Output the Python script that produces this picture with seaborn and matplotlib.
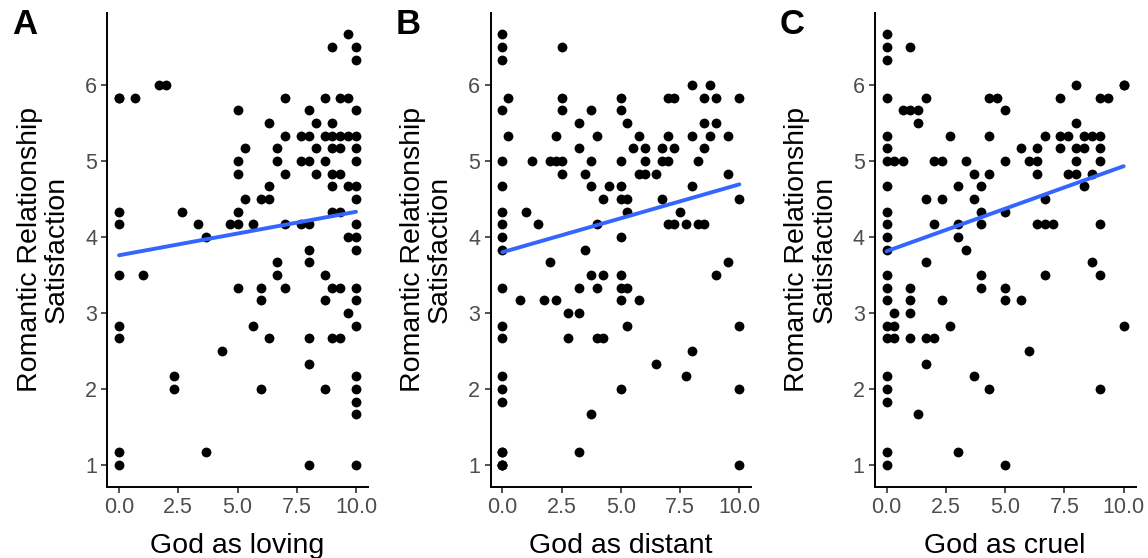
import numpy as np
import pandas as pd
import seaborn as sns
import matplotlib
matplotlib.use("Agg")
import matplotlib.pyplot as plt

# (god rating, relationship satisfaction), row by row
loving_pts = [
    (9.67, 6.67), (9.0, 6.5), (10, 6.5), (10, 6.33), (1.67, 6.0), (2.0, 6.0),
    (0, 5.83), (0.67, 5.83), (7.0, 5.83), (8.67, 5.83), (9.33, 5.83), (9.67, 5.83),
    (5.0, 5.67), (8.0, 5.67), (10, 5.67), (6.33, 5.5), (8.33, 5.5), (9.0, 5.5),
    (7.0, 5.33), (7.67, 5.33), (8.0, 5.33), (8.67, 5.33), (9.0, 5.33), (9.33, 5.33),
    (9.67, 5.33), (10, 5.33),
    (5.33, 5.17), (6.67, 5.17), (8.33, 5.17), (9.0, 5.17), (9.33, 5.17), (10, 5.17),
    (5.0, 5.0), (6.67, 5.0), (7.67, 5.0), (8.0, 5.0), (8.67, 5.0), (10, 5.0),
    (5.0, 4.83), (7.0, 4.83), (8.33, 4.83), (9.0, 4.83), (9.33, 4.83),
    (6.33, 4.67), (9.0, 4.67), (9.67, 4.67), (10, 4.67),
    (5.33, 4.5), (6.0, 4.5), (6.33, 4.5), (10, 4.5),
    (0, 4.33), (2.67, 4.33), (5.0, 4.33), (9.0, 4.33), (9.33, 4.33),
    (0, 4.17), (3.33, 4.17), (4.67, 4.17), (5.0, 4.17), (5.67, 4.17), (7.0, 4.17),
    (7.67, 4.17), (8.0, 4.17), (10, 4.17),
    (3.67, 4.0), (9.67, 4.0), (10, 4.0), (8.0, 3.83), (10, 3.83),
    (6.67, 3.67), (8.0, 3.67), (0, 3.5), (1.0, 3.5), (6.67, 3.5), (8.67, 3.5),
    (5.0, 3.33), (6.0, 3.33), (7.0, 3.33), (9.0, 3.33), (9.33, 3.33), (10, 3.33),
    (6.0, 3.17), (8.67, 3.17), (10, 3.17), (9.67, 3.0),
    (0, 2.83), (5.67, 2.83), (10, 2.83),
    (0, 2.67), (6.33, 2.67), (8.0, 2.67), (9.0, 2.67), (9.33, 2.67),
    (4.33, 2.5), (8.0, 2.33), (2.33, 2.17), (10, 2.17),
    (2.33, 2.0), (6.0, 2.0), (8.67, 2.0), (10, 2.0), (10, 1.83), (10, 1.67),
    (0, 1.17), (3.67, 1.17), (0, 1.0), (8.0, 1.0), (10, 1.0),
    # overplotted duplicate (hidden under a visible dot, implied by the fit line)
    (0, 5.83),
]

distant_pts = [
    (0, 6.67), (0, 6.5), (2.5, 6.5), (0, 6.33), (8.0, 6.0), (8.75, 6.0),
    (0.25, 5.83), (2.5, 5.83), (5.0, 5.83), (7.0, 5.83), (7.25, 5.83), (8.5, 5.83),
    (9.0, 5.83), (10, 5.83),
    (0, 5.67), (2.5, 5.67), (3.75, 5.67), (5.0, 5.67),
    (3.25, 5.5), (5.25, 5.5), (8.5, 5.5), (9.0, 5.5),
    (0.25, 5.33), (2.25, 5.33), (4.0, 5.33), (5.75, 5.33), (7.0, 5.33), (8.0, 5.33),
    (8.75, 5.33), (9.5, 5.33),
    (3.25, 5.17), (5.5, 5.17), (6.0, 5.17), (6.75, 5.17), (7.25, 5.17), (8.5, 5.17),
    (0, 5.0), (1.25, 5.0), (2.0, 5.0), (2.25, 5.0), (2.5, 5.0), (3.75, 5.0),
    (5.0, 5.0), (6.0, 5.0), (6.75, 5.0), (7.0, 5.0), (8.25, 5.0),
    (2.5, 4.83), (3.5, 4.83), (5.75, 4.83), (6.0, 4.83), (6.5, 4.83), (9.5, 4.83),
    (0, 4.67), (3.75, 4.67), (4.5, 4.67), (5.0, 4.67), (8.0, 4.67),
    (4.25, 4.5), (5.0, 4.5), (5.25, 4.5), (6.75, 4.5), (10, 4.5),
    (0, 4.33), (1.0, 4.33), (5.25, 4.33), (7.5, 4.33),
    (0, 4.17), (1.5, 4.17), (4.0, 4.17), (7.0, 4.17), (7.25, 4.17), (7.75, 4.17),
    (8.25, 4.17), (8.5, 4.17),
    (0, 4.0), (5.0, 4.0), (0, 3.83), (3.5, 3.83), (2.0, 3.67), (9.5, 3.67),
    (3.75, 3.5), (4.25, 3.5), (5.0, 3.5), (9.0, 3.5),
    (0, 3.33), (3.25, 3.33), (4.0, 3.33), (5.0, 3.33), (5.25, 3.33),
    (0.75, 3.17), (1.75, 3.17), (2.25, 3.17), (5.0, 3.17), (5.75, 3.17),
    (2.75, 3.0), (3.25, 3.0), (0, 2.83), (5.25, 2.83), (10, 2.83),
    (0, 2.67), (2.75, 2.67), (4.0, 2.67), (4.25, 2.67),
    (8.0, 2.5), (6.5, 2.33), (0, 2.17), (7.75, 2.17),
    (0, 2.0), (5.0, 2.0), (10, 2.0), (0, 1.83), (3.75, 1.67),
    (0, 1.17), (3.25, 1.17), (0, 1.0), (10, 1.0),
    # overplotted duplicates
    (0, 1.0), (0, 1.0), (0, 1.17),
]

cruel_pts = [
    (0, 6.67), (0, 6.5), (1.0, 6.5), (0, 6.33), (8.0, 6.0), (10, 6.0),
    (0, 5.83), (1.67, 5.83), (4.33, 5.83), (4.67, 5.83), (7.33, 5.83), (9.0, 5.83),
    (9.33, 5.83),
    (0.67, 5.67), (1.0, 5.67), (1.33, 5.67), (5.0, 5.67), (1.33, 5.5), (8.0, 5.5),
    (0, 5.33), (2.67, 5.33), (4.33, 5.33), (6.67, 5.33), (7.33, 5.33), (7.67, 5.33),
    (8.33, 5.33), (8.67, 5.33), (9.0, 5.33),
    (0, 5.17), (5.67, 5.17), (6.33, 5.17), (7.33, 5.17), (8.0, 5.17), (8.33, 5.17),
    (9.0, 5.17),
    (0, 5.0), (0.33, 5.0), (0.67, 5.0), (2.0, 5.0), (2.33, 5.0), (3.33, 5.0),
    (5.0, 5.0), (6.0, 5.0), (6.33, 5.0), (8.0, 5.0), (9.0, 5.0),
    (3.67, 4.83), (4.33, 4.83), (6.33, 4.83), (7.67, 4.83), (8.0, 4.83), (8.67, 4.83),
    (0, 4.67), (3.0, 4.67), (4.0, 4.67), (8.33, 4.67),
    (1.67, 4.5), (2.33, 4.5), (3.67, 4.5), (6.67, 4.5),
    (0, 4.33), (4.0, 4.33), (5.0, 4.33),
    (0, 4.17), (2.0, 4.17), (3.0, 4.17), (4.0, 4.17), (6.33, 4.17), (6.67, 4.17),
    (7.0, 4.17), (9.0, 4.17),
    (0, 4.0), (3.0, 4.0), (0, 3.83), (3.33, 3.83), (1.67, 3.67), (8.67, 3.67),
    (0, 3.5), (4.0, 3.5), (6.67, 3.5), (9.0, 3.5),
    (0, 3.33), (1.0, 3.33), (4.0, 3.33), (5.0, 3.33),
    (0, 3.17), (1.0, 3.17), (2.33, 3.17), (5.0, 3.17), (5.67, 3.17),
    (0.33, 3.0), (1.0, 3.0), (0, 2.83), (0.33, 2.83), (2.67, 2.83), (10, 2.83),
    (0, 2.67), (0.33, 2.67), (1.0, 2.67), (1.67, 2.67), (2.0, 2.67),
    (6.0, 2.5), (1.67, 2.33), (0, 2.17), (3.67, 2.17),
    (0, 2.0), (4.33, 2.0), (9.0, 2.0), (0, 1.83), (1.33, 1.67),
    (0, 1.17), (3.0, 1.17), (0, 1.0), (5.0, 1.0),
    # overplotted duplicate
    (10, 6.0),
]

panels = [
    ("A", "God as loving", loving_pts),
    ("B", "God as distant", distant_pts),
    ("C", "God as cruel", cruel_pts),
]
x_ticks = [0, 2.5, 5, 7.5, 10]
y_ticks = [1, 2, 3, 4, 5, 6]

sns.set_theme(style="ticks")
plt.rcParams['font.family'] = ['Liberation Sans', 'DejaVu Sans']
plt.rcParams.update({
    'axes.linewidth': 1.4,
    'xtick.major.width': 1.2,
    'ytick.major.width': 1.2,
    'xtick.major.size': 4.3,
    'ytick.major.size': 4.3,
    'xtick.color': '#333333',
    'ytick.color': '#333333',
    'xtick.labelcolor': '#4D4D4D',
    'ytick.labelcolor': '#4D4D4D',
})

W, H = 1148, 558
fig = plt.figure(figsize=(W / 100, H / 100), dpi=100)
lefts = [107.2, 490.5, 874.8]
ax_w = 260.7
ax_bottom, ax_top = 486.5, 12.8


def expand(vals):
    lo, hi = min(vals), max(vals)
    pad = 0.05 * (hi - lo)
    return lo - pad, hi + pad


for (letter, xlabel, pts), left in zip(panels, lefts):
    df = pd.DataFrame(pts, columns=["god", "satisfaction"])
    ax = fig.add_axes([left / W, (H - ax_bottom) / H, ax_w / W, (ax_bottom - ax_top) / H])
    sns.regplot(
        data=df, x="god", y="satisfaction", ax=ax, ci=None,
        scatter_kws=dict(s=50, color="black", linewidths=0, alpha=1),
        line_kws=dict(color="#3366FF", linewidth=2.8),
    )
    ax.set_xlim(*expand(df["god"]))
    ax.set_ylim(*expand(df["satisfaction"]))
    ax.set_xticks(x_ticks)
    ax.set_xticklabels([f"{t:.1f}" for t in x_ticks])
    ax.set_yticks(y_ticks)
    ax.set_yticklabels([str(t) for t in y_ticks])
    ax.tick_params(labelsize=15.5, pad=3)
    ax.set_xlabel(xlabel, fontsize=20.5, color="black", labelpad=11)
    ax.set_ylabel("Romantic Relationship\nSatisfaction", fontsize=20.5, color="black",
                  labelpad=11, linespacing=1.05)
    for side in ("top", "right"):
        ax.spines[side].set_visible(False)
    for side in ("left", "bottom"):
        ax.spines[side].set_color("black")
    fig.text((left - 95) / W, 1 - 8 / H, letter, fontsize=25, fontweight="bold",
             ha="left", va="top", color="black")

fig.savefig("out.png", dpi=100)
